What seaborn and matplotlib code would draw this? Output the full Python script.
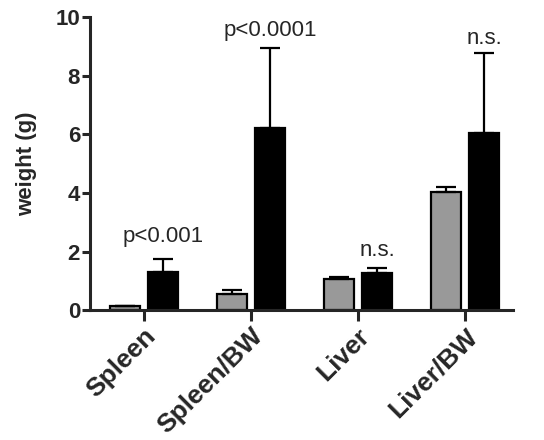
import matplotlib
matplotlib.use("Agg")

import pandas as pd
import numpy as np
import matplotlib.pyplot as plt
import seaborn as sns

sns.set_style("ticks")
plt.rcParams["font.family"] = ["Liberation Sans", "DejaVu Sans"]

# data
categories = ["Spleen", "Spleen/BW", "Liver", "Liver/BW"]
groups = ["control", "treated"]
grey_mean = [0.13, 0.55, 1.07, 4.04]
grey_err = [0.03, 0.13, 0.06, 0.16]
black_mean = [1.31, 6.22, 1.27, 6.03]
black_err = [0.45, 2.73, 0.17, 2.73]
p_labels = ["p<0.001", "p<0.0001", "n.s.", "n.s."]
p_heights = [2.5, 9.55, 2.05, 9.27]

df = pd.DataFrame({
    "tissue": categories * 2,
    "group": [groups[0]] * 4 + [groups[1]] * 4,
    "weight": grey_mean + black_mean,
    "err": grey_err + black_err,
})

fig = plt.figure(figsize=(5.44, 4.40), dpi=100)
ax = fig.add_axes([0.165, 0.295, 0.778, 0.666])

sns.barplot(
    data=df, x="tissue", y="weight", hue="group",
    order=categories, hue_order=groups,
    palette={"control": "#999999", "treated": "black"},
    width=0.72, gap=0.22, errorbar=None, legend=False,
    edgecolor="black", linewidth=1.6, ax=ax,
)

# error bars (upper only) on top of the seaborn bars
for i, g in enumerate(groups):
    bars = ax.containers[i]
    xs = [b.get_x() + b.get_width() / 2 for b in bars]
    sub = df[df["group"] == g].set_index("tissue").loc[categories]
    ax.errorbar(xs, sub["weight"], yerr=[np.zeros(len(xs)), sub["err"]],
                fmt="none", ecolor="black", elinewidth=1.6,
                capsize=7.5, capthick=1.6, zorder=3)

# significance labels above the black bars
black_bars = ax.containers[1]
for b, lab, h in zip(black_bars, p_labels, p_heights):
    ax.text(b.get_x() + b.get_width() / 2, h, lab, ha="center", va="center",
            fontsize=16)

ax.set_ylim(0, 10)
ax.set_xlim(-0.505, 3.45)
ax.set_yticks([0, 2, 4, 6, 8, 10])
ax.set_xlabel("")
ax.set_ylabel("weight (g)", fontsize=16, fontweight="bold", labelpad=13)

for s in ["top", "right"]:
    ax.spines[s].set_visible(False)
for s in ["left", "bottom"]:
    ax.spines[s].set_linewidth(2.2)

ax.tick_params(axis="y", length=6, width=2.2, labelsize=16, pad=1)
ax.tick_params(axis="x", length=8, width=2.2, labelsize=19, pad=2)
for t in ax.get_yticklabels():
    t.set_fontweight("bold")
for t in ax.get_xticklabels():
    t.set_fontweight("bold")
    t.set_rotation(45)
    t.set_ha("right")
    t.set_va("top")
    t.set_rotation_mode("anchor")

fig.savefig("out.png", dpi=100)
plt.close(fig)
